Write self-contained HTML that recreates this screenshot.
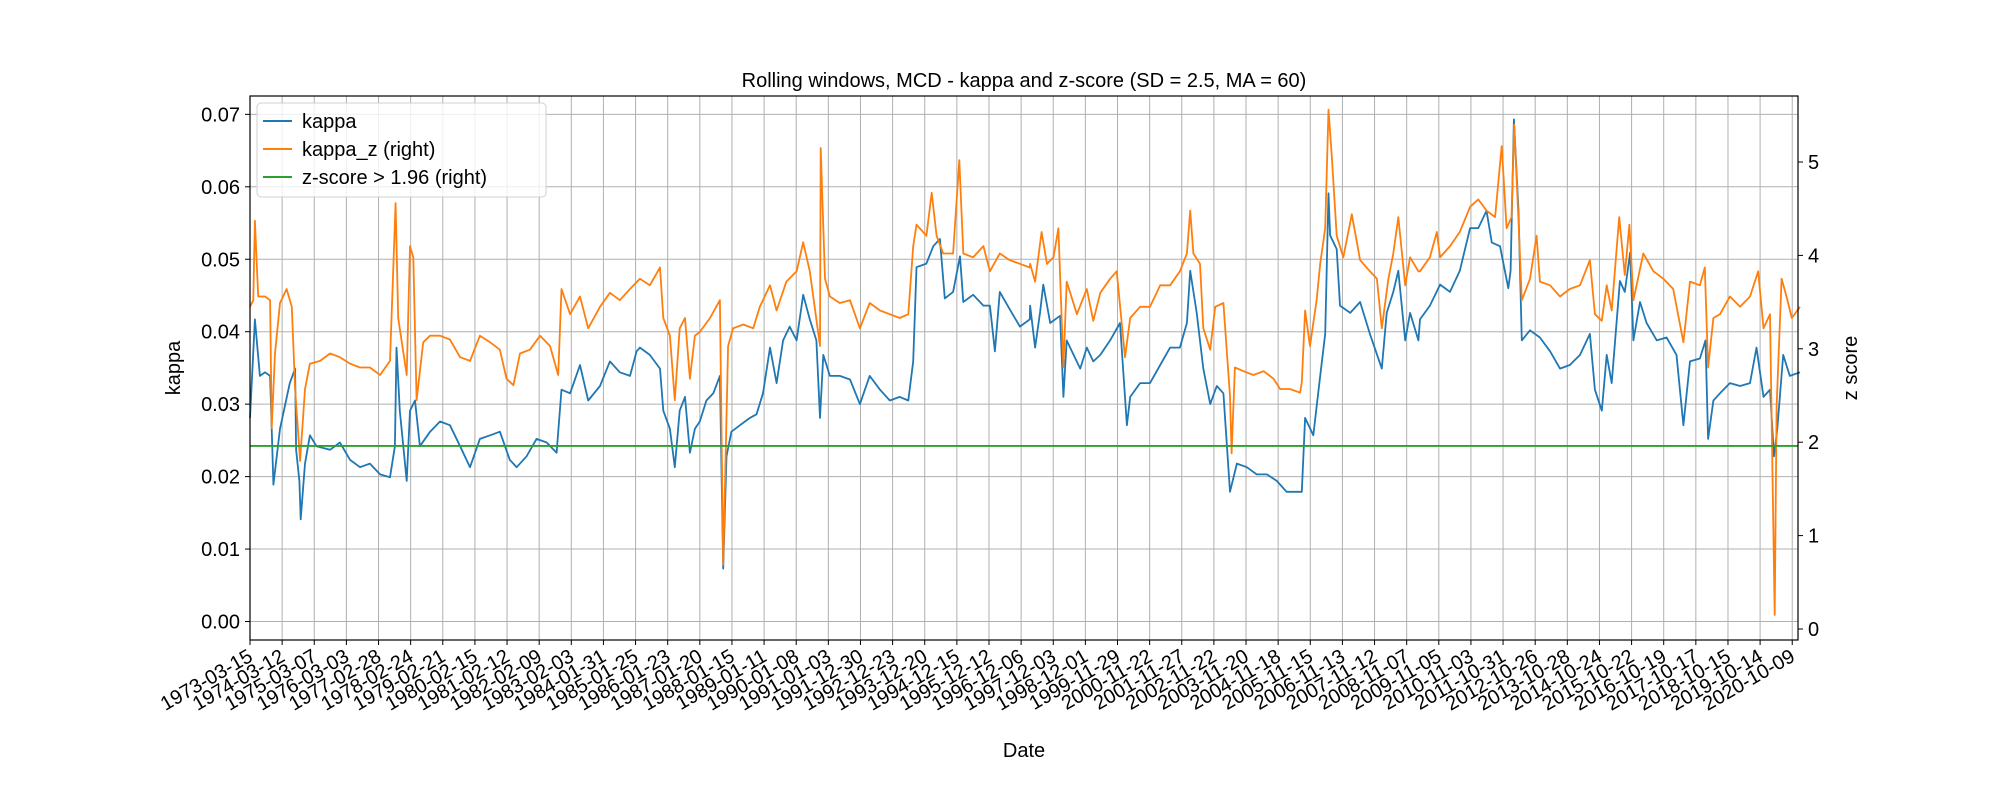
<!DOCTYPE html>
<html><head><meta charset="utf-8"><style>
html,body{margin:0;padding:0;background:#fff;}
svg{display:block;font-family:"Liberation Sans","DejaVu Sans",sans-serif;}
</style></head><body>
<svg id="chart" width="2000" height="800" viewBox="0 0 2000 800" xmlns="http://www.w3.org/2000/svg">
<rect width="2000" height="800" fill="#fff"/>
<g id="grid"></g>
<g id="series"></g>
<g id="axes"></g>
<text x="1024" y="87" font-size="20" text-anchor="middle">Rolling windows, MCD - kappa and z-score (SD = 2.5, MA = 60)</text>
<text transform="translate(180,368) rotate(-90)" font-size="20" text-anchor="middle">kappa</text>
<text transform="translate(1857,368) rotate(-90)" font-size="20" text-anchor="middle">z score</text>
<text x="1024" y="757" font-size="20" text-anchor="middle">Date</text>
<g>
<rect x="257" y="103" width="289" height="94" rx="4" fill="#fff" fill-opacity="0.8" stroke="#d0d0d0"/>
<g><line x1="263" y1="121" x2="292" y2="121" stroke="#1f77b4" stroke-width="2"/><text x="302" y="128" font-size="20">kappa</text></g>
<g><line x1="263" y1="149" x2="292" y2="149" stroke="#ff7f0e" stroke-width="2"/><text x="302" y="156" font-size="20">kappa_z (right)</text></g>
<g><line x1="263" y1="177" x2="292" y2="177" stroke="#2ca02c" stroke-width="2"/><text x="302" y="184" font-size="20">z-score &gt; 1.96 (right)</text></g>
</g>
</svg>
<script>
const tickLabels=["1973-03-15","1974-03-12","1975-03-07","1976-03-03","1977-02-28","1978-02-24","1979-02-21","1980-02-15","1981-02-12","1982-02-09","1983-02-03","1984-01-31","1985-01-25","1986-01-23","1987-01-20","1988-01-15","1989-01-11","1990-01-08","1991-01-03","1991-12-30","1992-12-23","1993-12-20","1994-12-15","1995-12-12","1996-12-06","1997-12-03","1998-12-01","1999-11-29","2000-11-22","2001-11-27","2002-11-22","2003-11-20","2004-11-18","2005-11-15","2006-11-13","2007-11-12","2008-11-07","2009-11-05","2010-11-03","2011-10-31","2012-10-26","2013-10-28","2014-10-24","2015-10-22","2016-10-19","2017-10-17","2018-10-15","2019-10-14","2020-10-09"];
const leftTicks=[0,0.01,0.02,0.03,0.04,0.05,0.06,0.07];
const rightTicks=[0,1,2,3,4,5];
const threshold=1.96;
const segBase=[0,11.84,23.69,35.53];
// kappa: time offsets (years within segment) and values
const kT1=[0,0.15,0.30,0.46,0.61,0.71,0.91,1.21,1.37,1.40,1.50,1.54,1.67,1.82,2.02,2.43,2.73,3.04,3.34,3.64,3.95,4.25,4.40,4.45,4.55,4.76,4.86,5.01,5.16,5.47,5.77,6.07,6.38,6.68,6.98,7.29,7.59,7.89,8.10,8.40,8.70,9.01,9.31,9.46,9.72,10.02,10.27,10.63,10.93,11.23,11.54,11.74,12.15];
const kV1=[.0281,.0417,.0339,.0344,.0339,.0189,.0266,.0329,.0349,.0237,.0194,.0141,.0218,.0257,.0242,.0237,.0247,.0223,.0213,.0218,.0203,.0199,.0242,.0378,.0291,.0194,.0291,.0305,.0242,.0262,.0276,.0271,.0242,.0213,.0252,.0257,.0262,.0223,.0213,.0228,.0252,.0247,.0233,.0320,.0315,.0354,.0305,.0325,.0359,.0344,.0339,.0373,.0368];
const kT2=[0,0.30,0.61,0.71,0.91,1.06,1.21,1.37,1.52,1.67,1.82,2.02,2.23,2.43,2.53,2.63,2.78,3.04,3.34,3.54,3.74,3.95,4.15,4.35,4.55,4.76,4.96,5.16,5.36,5.47,5.57,5.77,6.07,6.38,6.68,6.98,7.29,7.59,7.89,8.15,8.30,8.40,8.70,8.91,9.11,9.26,9.51,9.72,9.82,10.12,10.43,10.63,10.78,10.93,11.23,11.54,11.84,11.99,12.15];
const kV2=[.0378,.0368,.0349,.0291,.0266,.0213,.0291,.0310,.0233,.0266,.0276,.0305,.0315,.0339,.0073,.0228,.0262,.0271,.0281,.0286,.0315,.0378,.0329,.0388,.0407,.0388,.0451,.0417,.0388,.0281,.0368,.0339,.0339,.0334,.0300,.0339,.0320,.0305,.0310,.0305,.0359,.0489,.0494,.0518,.0528,.0446,.0455,.0504,.0441,.0451,.0436,.0436,.0373,.0455,.0431,.0407,.0417,.0373,.0407];
const kT3=[0,0.15,0.30,0.40,0.61,0.91,1.01,1.11,1.32,1.52,1.72,1.92,2.13,2.43,2.73,2.94,3.04,3.34,3.64,3.95,4.25,4.55,4.76,4.86,5.06,5.26,5.47,5.67,5.87,6.07,6.28,6.58,6.88,7.19,7.49,7.79,8.10,8.25,8.35,8.60,8.81,8.96,9.06,9.11,9.31,9.41,9.72,10.02,10.32,10.68,10.83,11.03,11.18,11.39,11.54,11.79,11.94,12.15];
const kV3=[.0436,.0378,.0426,.0465,.0412,.0422,.0310,.0388,.0368,.0349,.0378,.0359,.0368,.0388,.0412,.0271,.0310,.0329,.0329,.0354,.0378,.0378,.0412,.0484,.0426,.0349,.0300,.0325,.0315,.0179,.0218,.0213,.0203,.0203,.0194,.0179,.0179,.0179,.0281,.0257,.0339,.0397,.0591,.0533,.0514,.0436,.0426,.0441,.0397,.0349,.0426,.0455,.0484,.0388,.0426,.0388,.0436,.0441];
const kT4=[0,0.30,0.61,0.91,1.21,1.52,1.77,2.02,2.18,2.43,2.68,2.75,2.85,2.99,3.09,3.34,3.64,3.95,4.25,4.55,4.86,5.16,5.31,5.52,5.67,5.82,6.07,6.22,6.38,6.48,6.68,6.88,7.19,7.49,7.79,8.00,8.20,8.50,8.67,8.75,8.91,9.11,9.41,9.72,10.02,10.22,10.43,10.63,10.75,10.85,11.03,11.23,11.54];
const kV4=[.0417,.0436,.0465,.0455,.0484,.0543,.0543,.0567,.0523,.0518,.0460,.0484,.0693,.0567,.0388,.0402,.0392,.0373,.0349,.0354,.0368,.0397,.0320,.0291,.0368,.0329,.0470,.0455,.0509,.0388,.0441,.0412,.0388,.0392,.0368,.0271,.0359,.0363,.0388,.0252,.0305,.0315,.0329,.0325,.0329,.0378,.0310,.0320,.0228,.0266,.0368,.0339,.0344];
// kappa_z
const zT1=[0,0.10,0.15,0.25,0.46,0.61,0.66,0.76,0.91,1.11,1.27,1.37,1.52,1.67,1.82,2.13,2.43,2.73,3.04,3.34,3.64,3.95,4.25,4.42,4.50,4.76,4.86,4.96,5.06,5.26,5.47,5.77,6.07,6.38,6.68,6.98,7.29,7.59,7.79,8.00,8.20,8.50,8.81,9.11,9.36,9.46,9.72,10.02,10.27,10.63,10.93,11.23,11.54,11.84,12.15];
const zV1=[3.45,3.52,4.37,3.56,3.56,3.52,2.15,2.95,3.49,3.64,3.45,2.57,1.80,2.57,2.84,2.87,2.95,2.91,2.84,2.80,2.80,2.72,2.87,4.56,3.33,2.72,4.10,3.98,2.45,3.07,3.14,3.14,3.10,2.91,2.87,3.14,3.07,2.99,2.68,2.61,2.95,2.99,3.14,3.03,2.72,3.64,3.37,3.56,3.22,3.45,3.60,3.52,3.64,3.68,3.60];
const zT2=[0,0.30,0.61,0.71,0.91,1.06,1.21,1.37,1.52,1.67,1.82,2.13,2.43,2.53,2.68,2.83,3.14,3.44,3.64,3.95,4.15,4.45,4.76,4.96,5.16,5.47,5.49,5.62,5.77,6.07,6.38,6.68,6.98,7.29,7.59,7.89,8.15,8.30,8.40,8.70,8.86,9.01,9.21,9.51,9.70,9.82,10.12,10.43,10.63,10.93,11.23,11.54,11.84,11.99,12.15];
const zV2=[3.75,3.68,3.87,3.33,3.14,2.45,3.22,3.33,2.68,3.14,3.18,3.33,3.52,0.69,3.03,3.22,3.26,3.22,3.45,3.68,3.41,3.72,3.83,4.14,3.83,3.03,5.15,3.75,3.56,3.49,3.52,3.22,3.49,3.41,3.37,3.33,3.37,4.10,4.33,4.21,4.67,4.21,4.02,4.02,5.02,4.02,3.98,4.10,3.83,4.02,3.95,3.91,3.87,3.68,3.98];
const zT3=[0,0.15,0.35,0.51,0.71,0.86,1.01,1.11,1.42,1.72,1.92,2.13,2.43,2.63,2.88,3.04,3.34,3.64,3.95,4.25,4.55,4.76,4.86,4.96,5.16,5.26,5.47,5.62,5.87,6.07,6.12,6.22,6.48,6.78,7.09,7.39,7.59,7.89,8.20,8.25,8.35,8.50,8.70,8.81,8.96,9.06,9.16,9.31,9.51,9.77,10.02,10.32,10.53,10.68,10.88,11.03,11.18,11.39,11.54,11.79,12.04,12.15];
const zV3=[3.91,3.72,4.25,3.91,3.98,4.29,2.80,3.72,3.37,3.64,3.30,3.60,3.75,3.83,2.91,3.33,3.45,3.45,3.68,3.68,3.83,4.02,4.48,4.02,3.91,3.22,2.99,3.45,3.49,2.49,1.88,2.80,2.76,2.72,2.76,2.68,2.57,2.57,2.53,2.64,3.41,3.03,3.52,3.91,4.29,5.56,5.06,4.21,3.98,4.44,3.95,3.83,3.75,3.22,3.75,4.02,4.41,3.68,3.98,3.83,4.02,3.95];
const zT4=[0,0.30,0.51,0.61,0.91,1.21,1.52,1.77,2.02,2.28,2.48,2.63,2.78,2.86,2.99,3.09,3.34,3.54,3.64,3.95,4.25,4.55,4.86,5.16,5.31,5.52,5.67,5.82,6.05,6.22,6.36,6.48,6.78,7.09,7.39,7.69,8.00,8.20,8.50,8.65,8.75,8.91,9.11,9.41,9.72,10.02,10.27,10.43,10.63,10.77,10.83,10.98,11.13,11.29,11.54];
const zV4=[3.83,3.98,4.25,3.98,4.10,4.25,4.52,4.60,4.48,4.41,5.17,4.29,4.41,5.40,4.37,3.52,3.75,4.21,3.72,3.68,3.56,3.64,3.68,3.95,3.37,3.30,3.68,3.41,4.41,3.79,4.33,3.52,4.02,3.83,3.75,3.64,3.07,3.72,3.68,3.87,2.80,3.33,3.37,3.56,3.45,3.56,3.83,3.22,3.37,0.15,2.38,3.75,3.56,3.33,3.45];

const X0=250,X1=1798,Y0=96,Y1=640;
const xScale=t=>250+t*32.93;
const yLeft=v=>621.5-v*7245;
const yRight=v=>629-v*93.4;
const tickStep=0.9757;
const NS="http://www.w3.org/2000/svg";
function mk(tag,attrs,parent){const e=document.createElementNS(NS,tag);for(const k in attrs)e.setAttribute(k,attrs[k]);parent.appendChild(e);return e;}
const grid=document.getElementById('grid'),axes=document.getElementById('axes'),series=document.getElementById('series');
tickLabels.forEach((lab,i)=>{
  const x=xScale(i*tickStep);
  const gl=mk('line',{x1:x,x2:x,y1:Y0,y2:Y1,stroke:'#b0b0b0','stroke-width':1},grid);
  
  
  const tk=mk('line',{x1:x,x2:x,y1:Y1,y2:Y1+5,stroke:'#000','stroke-width':1},axes);
  
  
  const t=mk('text',{transform:`translate(${x+4},${Y1+20}) rotate(-30)`,'font-size':20,'text-anchor':'end'},axes);
  t.textContent=lab;
  
  
});
leftTicks.forEach(v=>{
  const y=yLeft(v);
  const gl=mk('line',{x1:X0,x2:X1,y1:y,y2:y,stroke:'#b0b0b0','stroke-width':1},grid);
  
  
  const tk=mk('line',{x1:X0-5,x2:X0,y1:y,y2:y,stroke:'#000','stroke-width':1},axes);
  
  
  const t=mk('text',{x:X0-10,y:y+7,'font-size':20,'text-anchor':'end'},axes);
  t.textContent=v.toFixed(2);
  
  
});
rightTicks.forEach(v=>{
  const y=yRight(v);
  const tk=mk('line',{x1:X1,x2:X1+5,y1:y,y2:y,stroke:'#000','stroke-width':1},axes);
  
  
  const t=mk('text',{x:X1+10,y:y+7,'font-size':20},axes);
  t.textContent=String(v);
  
  
});
const fr=mk('rect',{x:X0,y:Y0,width:X1-X0,height:Y1-Y0,fill:'none',stroke:'#000','stroke-width':1.2},axes);


function build(Ts,Vs,ys){
  let pts=[];
  Ts.forEach((T,s)=>T.forEach((t,i)=>{
    const abs=segBase[s]+t;
    if(s<Ts.length-1 && abs>=segBase[s+1]) return;
    pts.push(xScale(abs).toFixed(1)+','+ys(Vs[s][i]).toFixed(1));
  }));
  return pts.join(' ');
}
const kl=mk('polyline',{points:build([kT1,kT2,kT3,kT4],[kV1,kV2,kV3,kV4],yLeft),fill:'none',stroke:'#1f77b4','stroke-width':1.8,'stroke-linejoin':'round'},series);


const zl=mk('polyline',{points:build([zT1,zT2,zT3,zT4],[zV1,zV2,zV3,zV4],yRight),fill:'none',stroke:'#ff7f0e','stroke-width':1.8,'stroke-linejoin':'round'},series);


const th=mk('line',{x1:X0,x2:X1,y1:yRight(threshold),y2:yRight(threshold),stroke:'#2ca02c','stroke-width':1.8},series);


</script>
</body></html>
